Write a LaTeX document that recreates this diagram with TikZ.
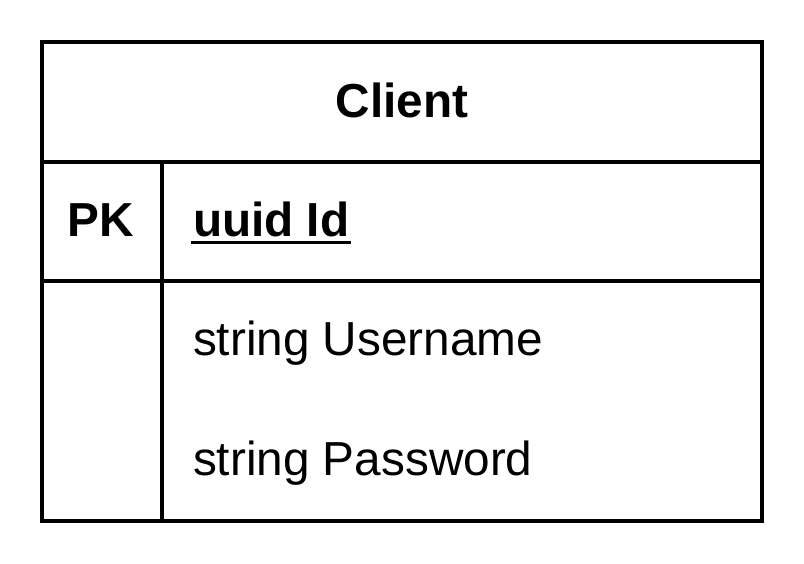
\documentclass[tikz,border=0pt]{standalone}
\usepackage{fontspec}
\setmainfont{Liberation Sans}
\usetikzlibrary{positioning}

\begin{document}
\begin{tikzpicture}[x=0.75pt,y=-0.75pt,line width=3pt,
  field/.style={inner sep=0pt,anchor=base west,font=\fontsize{35.8}{42}\selectfont},
  keyfield/.style={field,font=\fontsize{35.8}{42}\selectfont\bfseries}]
\useasboundingbox (0,0) rectangle (804,564);
% table frame
\draw (42,42) rectangle (762,521);
\draw (42,161.5) -- (762,161.5);
\draw (42,280.5) -- (762,280.5);
\draw (162,161.5) -- (162,521);
% texts
\node[keyfield,anchor=base] (client) at (402,117) {Client};
\node[keyfield,anchor=base] (pk) at (101,236) {PK};
\node[keyfield] (id) at (191,236) {uuid Id};
\draw[line width=2.25pt] ([yshift=-4.9pt]id.base west) -- ([yshift=-4.9pt]id.base east);
\node[field] (username) at (191,355) {string Username};
\node[field] (password) at (191,475) {string Password};
\end{tikzpicture}
\end{document}
